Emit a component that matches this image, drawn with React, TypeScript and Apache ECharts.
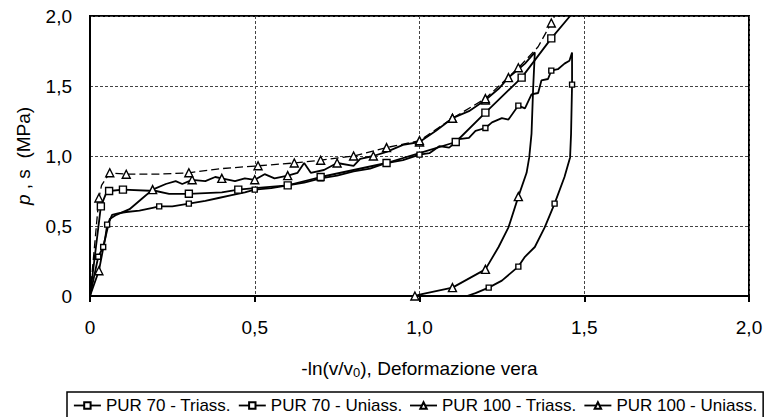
import React, { useEffect, useRef } from "react";
import * as echarts from "echarts";

// ---- Data ----
const xTicks = [0, 0.5, 1.0, 1.5, 2.0];
const yTicks = [0, 0.5, 1.0, 1.5, 2.0];

const seriesNames = [
  "PUR 70 - Triass.",
  "PUR 70 - Uniass.",
  "PUR 100 - Triass.",
  "PUR 100 - Uniass.",
];

// PUR 70 - Triaxial (jagged, loading + unloading)
const pur70Triass: number[][] = [
  [0, 0], [0.025, 0.28], [0.04, 0.35], [0.046, 0.41], [0.052, 0.51], [0.06, 0.54],
  [0.067, 0.58], [0.085, 0.59], [0.11, 0.6], [0.15, 0.61], [0.19, 0.63], [0.21, 0.64],
  [0.25, 0.64], [0.3, 0.66], [0.35, 0.68], [0.39, 0.7], [0.43, 0.72], [0.47, 0.74],
  [0.5, 0.76], [0.55, 0.77], [0.6, 0.79], [0.65, 0.81], [0.7, 0.84], [0.75, 0.86],
  [0.8, 0.89], [0.85, 0.91], [0.9, 0.95], [0.95, 0.97], [1.0, 1.01], [1.03, 1.02],
  [1.06, 1.07], [1.09, 1.06], [1.12, 1.12], [1.15, 1.13], [1.17, 1.18], [1.2, 1.2],
  [1.22, 1.24], [1.25, 1.27], [1.27, 1.26], [1.3, 1.36], [1.32, 1.34], [1.34, 1.44],
  [1.36, 1.45], [1.37, 1.54], [1.39, 1.55], [1.4, 1.61], [1.42, 1.62], [1.44, 1.66],
  [1.455, 1.68], [1.463, 1.74], [1.463, 1.51], [1.46, 1.16], [1.457, 0.99], [1.44, 0.85],
  [1.41, 0.66], [1.38, 0.49], [1.35, 0.35], [1.32, 0.28], [1.3, 0.21], [1.25, 0.11],
  [1.21, 0.06], [1.17, 0.02], [1.144, 0],
];
const pur70TriassMarks = [1, 2, 4, 11, 13, 18, 20, 22, 26, 28, 35, 39, 45, 50, 54, 58, 60];

// PUR 70 - Uniaxial (smooth)
const pur70Uniass: number[][] = [
  [0, 0], [0.033, 0.64], [0.05, 0.74], [0.058, 0.75], [0.1, 0.76], [0.2, 0.75],
  [0.24, 0.73], [0.3, 0.73], [0.4, 0.74], [0.45, 0.76], [0.5, 0.77], [0.6, 0.79],
  [0.7, 0.85], [0.8, 0.9], [0.9, 0.95], [1.0, 1.02], [1.11, 1.1], [1.2, 1.31],
  [1.31, 1.56], [1.4, 1.84], [1.457, 2.0], [1.47, 2.06],
];
const pur70UniassMarks = [1, 3, 4, 7, 9, 11, 12, 14, 16, 17, 18, 19];

// PUR 100 - Triaxial (jagged, loading + unloading)
const pur100Triass: number[][] = [
  [0, 0], [0.027, 0.18], [0.045, 0.4], [0.06, 0.55], [0.08, 0.58], [0.12, 0.62],
  [0.16, 0.7], [0.19, 0.76], [0.23, 0.8], [0.26, 0.82], [0.28, 0.8], [0.31, 0.83],
  [0.35, 0.82], [0.38, 0.85], [0.4, 0.84], [0.44, 0.82], [0.47, 0.84], [0.5, 0.83],
  [0.53, 0.87], [0.56, 0.84], [0.6, 0.86], [0.63, 0.88], [0.65, 0.95], [0.67, 0.88],
  [0.71, 0.9], [0.75, 0.95], [0.8, 0.93], [0.82, 0.98], [0.86, 1.0], [0.9, 1.03],
  [0.95, 1.08], [1.0, 1.1], [1.05, 1.18], [1.1, 1.27], [1.15, 1.32], [1.2, 1.4],
  [1.24, 1.48], [1.27, 1.56], [1.3, 1.62], [1.32, 1.66], [1.35, 1.74], [1.345, 1.49],
  [1.34, 1.16], [1.333, 0.99], [1.325, 0.88], [1.3, 0.71], [1.27, 0.49], [1.24, 0.35],
  [1.2, 0.19], [1.1, 0.06], [1.0, 0.01], [0.986, 0],
];
const pur100TriassMarks = [1, 7, 11, 14, 17, 20, 25, 28, 31, 33, 35, 37, 45, 48, 49, 51];

// PUR 100 - Uniaxial (smooth, dashed)
const pur100Uniass: number[][] = [
  [0, 0], [0.027, 0.7], [0.035, 0.79], [0.06, 0.88], [0.11, 0.87], [0.2, 0.87],
  [0.3, 0.88], [0.4, 0.91], [0.51, 0.93], [0.62, 0.95], [0.7, 0.97], [0.8, 1.0],
  [0.9, 1.06], [1.0, 1.11], [1.1, 1.27], [1.2, 1.41], [1.3, 1.63], [1.36, 1.78],
  [1.4, 1.95], [1.42, 2.05],
];
const pur100UniassMarks = [1, 3, 4, 6, 8, 9, 10, 11, 12, 13, 14, 15, 16, 18];

const FONT = "'Liberation Sans', Arial, sans-serif";

function fmt(v: number) {
  return v === 0 ? "0" : v.toFixed(1).replace(".", ",");
}

function buildData(pts: number[][], marks: number[]) {
  return pts.map((p, i) =>
    marks.includes(i) ? { value: p } : { value: p, symbol: "none" }
  );
}

export default function App() {
  const ref = useRef<HTMLDivElement>(null);

  useEffect(() => {
    if (!ref.current) return;
    const chart = echarts.init(ref.current, undefined, { renderer: "svg" });

    const common = {
      type: "line",
      showSymbol: true,
      showAllSymbol: true,
      symbolSize: 6,
      clip: true,
      itemStyle: { color: "#fff", borderColor: "#000", borderWidth: 1.4 },
      emphasis: { disabled: true },
    };

    const option: any = {
      animation: false,
      backgroundColor: "#fff",
      textStyle: { fontFamily: FONT },
      grid: {
        left: 90,
        right: 17,
        top: 16,
        bottom: 121,
        show: true,
        borderColor: "#000",
        borderWidth: 2,
      },
      legend: {
        left: 67,
        top: 392,
        padding: [5, 6, 12, 6],
        itemGap: 7,
        itemWidth: 27,
        itemHeight: 8,
        borderColor: "#000",
        borderWidth: 1.5,
        lineStyle: { type: "solid", width: 1.8, color: "#000" },
        textStyle: { fontSize: 17, color: "#000", fontFamily: FONT },
        data: seriesNames,
      },
      xAxis: {
        type: "value",
        min: 0,
        max: 2,
        interval: 0.5,
        name: "-ln(v/v{sub|0}), Deformazione vera",
        nameLocation: "middle",
        nameGap: 62,
        nameTextStyle: {
          fontSize: 19,
          color: "#000",
          fontFamily: FONT,
          rich: {
            sub: { fontSize: 13, verticalAlign: "bottom", padding: [8, 0, 0, 0], fontFamily: FONT, color: "#000" },
          },
        },
        axisLine: { show: true, lineStyle: { color: "#000", width: 2 } },
        axisTick: { show: true, length: 6, lineStyle: { color: "#000", width: 2 } },
        axisLabel: {
          fontSize: 19,
          color: "#000",
          margin: 22,
          fontFamily: FONT,
          formatter: (v: number) => (xTicks.includes(v) ? fmt(v) : ""),
        },
        splitLine: { show: true, lineStyle: { color: "#444", width: 1, type: [3, 2] } },
      },
      yAxis: {
        type: "value",
        min: 0,
        max: 2,
        interval: 0.5,
        name: "{i|p} , s  (MPa)",
        nameLocation: "middle",
        nameGap: 57,
        nameRotate: 90,
        nameTextStyle: {
          fontSize: 19,
          color: "#000",
          fontFamily: FONT,
          rich: {
            i: { fontStyle: "italic", fontSize: 19, fontFamily: FONT, color: "#000" },
          },
        },
        axisLine: { show: true, lineStyle: { color: "#000", width: 2 } },
        axisTick: { show: false },
        axisLabel: {
          fontSize: 19,
          color: "#000",
          margin: 18,
          fontFamily: FONT,
          formatter: (v: number) => (yTicks.includes(v) ? fmt(v) : ""),
        },
        splitLine: { show: true, lineStyle: { color: "#444", width: 1, type: [3, 2] } },
      },
      series: [
        {
          ...common,
          name: seriesNames[0],
          symbol: "rect",
          symbolSize: 5,
          lineStyle: { color: "#000", width: 1.8 },
          data: buildData(pur70Triass, pur70TriassMarks),
        },
        {
          ...common,
          name: seriesNames[1],
          symbol: "rect",
          symbolSize: 7,
          lineStyle: { color: "#000", width: 1.8 },
          data: buildData(pur70Uniass, pur70UniassMarks),
        },
        {
          ...common,
          name: seriesNames[2],
          symbol: "triangle",
          symbolSize: 8,
          lineStyle: { color: "#000", width: 1.8 },
          data: buildData(pur100Triass, pur100TriassMarks),
        },
        {
          ...common,
          name: seriesNames[3],
          symbol: "triangle",
          symbolSize: 8,
          lineStyle: { color: "#000", width: 1.3, type: [8, 4] },
          data: buildData(pur100Uniass, pur100UniassMarks),
        },
      ],
    };

    chart.setOption(option);
    return () => chart.dispose();
  }, []);

  return (
    <div
      ref={ref}
      style={{ position: "fixed", left: 0, top: 0, width: 766, height: 417, background: "#fff" }}
    />
  );
}
